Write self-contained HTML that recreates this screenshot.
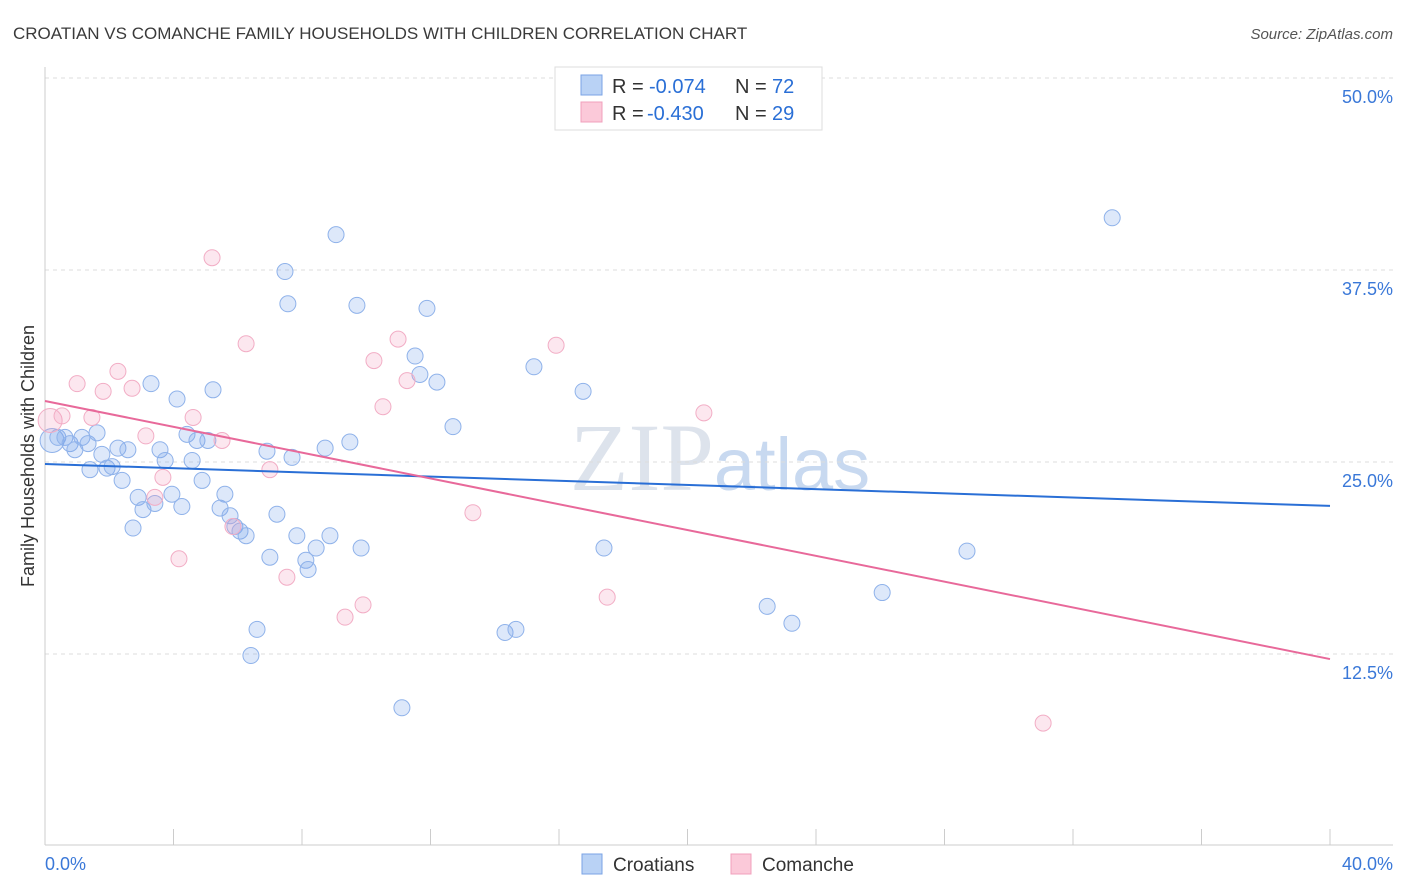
<!DOCTYPE html>
<html><head><meta charset="utf-8"><style>
body{margin:0;background:#fff;font-family:"Liberation Sans",sans-serif}
svg{display:block}
</style></head><body>
<svg id="chart" width="1406" height="892" xmlns="http://www.w3.org/2000/svg">
<text x="13" y="39" font-size="17" fill="#3a3a3a">CROATIAN VS COMANCHE FAMILY HOUSEHOLDS WITH CHILDREN CORRELATION CHART</text>
<text x="1393" y="39" font-size="15" fill="#555" font-style="italic" text-anchor="end">Source: ZipAtlas.com</text>
<text x="720" y="490" font-size="96" fill="#dde3ec" text-anchor="middle" font-family="Liberation Serif,serif">ZIP<tspan font-family="Liberation Sans,sans-serif" font-size="74" fill="#c8d9f0">atlas</tspan></text>
<g id="grid"></g>
<g id="axes"></g>
<text transform="translate(34,456) rotate(-90)" font-size="18" fill="#333" text-anchor="middle">Family Households with Children</text>
<g id="pts"></g>
<g id="lines"></g>
<g>
<rect x="555" y="67" width="267" height="63" fill="#fff" stroke="#ddd"/>
<rect x="581" y="75" width="21" height="20" fill="#b9d2f5" stroke="#7aa3e5"/>
<rect x="581" y="102" width="21" height="20" fill="#fbc9d9" stroke="#f0a0bc"/>
<g font-size="20" fill="#333">
<text x="612" y="93">R =</text><text x="649" y="93" fill="#2a6fd6">-0.074</text><text x="735" y="93">N =</text><text x="772" y="93" fill="#2a6fd6">72</text></g>
<g font-size="20" fill="#333">
<text x="612" y="120">R =</text><text x="647" y="120" fill="#2a6fd6">-0.430</text><text x="735" y="120">N =</text><text x="772" y="120" fill="#2a6fd6">29</text></g>
</g>
<g>
<rect x="582" y="854" width="20" height="20" fill="#b9d2f5" stroke="#7aa3e5"/>
<text x="613" y="871" font-size="19" fill="#333">Croatians</text>
<rect x="731" y="854" width="20" height="20" fill="#fbc9d9" stroke="#f0a0bc"/>
<text x="762" y="871" font-size="19" fill="#333">Comanche</text>
</g>
</svg>
<script>
const yTicks=[12.5,25,37.5,50];
const yTickLabels=["12.5%","25.0%","37.5%","50.0%"];
const xTickLabels=["0.0%","40.0%"];
const croatX=[.22,.40,.62,.78,.93,1.15,1.34,1.40,1.62,1.77,1.93,2.09,2.27,2.40,2.58,2.74,2.90,3.05,3.30,3.42,3.58,3.74,3.95,4.11,4.26,4.42,4.58,4.73,4.89,5.07,5.23,5.45,5.60,5.76,5.91,6.07,6.26,6.41,6.60,6.91,7.00,7.22,7.47,7.56,7.69,7.84,8.12,8.19,8.44,8.72,8.87,9.06,9.49,9.71,9.84,11.11,11.52,11.67,11.89,12.20,12.70,14.32,14.66,15.22,16.75,17.40,22.48,23.25,26.06,28.70,33.22];
const croatY=[26.4,26.6,26.6,26.2,25.8,26.6,26.2,24.5,26.9,25.5,24.6,24.7,25.9,23.8,25.8,20.7,22.7,21.9,30.1,22.3,25.8,25.1,22.9,29.1,22.1,26.8,25.1,26.4,23.8,26.4,29.7,22.0,22.9,21.5,20.8,20.5,20.2,12.4,14.1,25.7,18.8,21.6,37.4,35.3,25.3,20.2,18.6,18.0,19.4,25.9,20.2,39.8,26.3,35.2,19.4,9.0,31.9,30.7,35.0,30.2,27.3,13.9,14.1,31.2,29.6,19.4,15.6,14.5,16.5,19.2,40.9];
const comX=[.16,.53,1.00,1.46,1.81,2.27,2.71,3.14,3.42,3.67,4.17,4.61,5.20,5.51,5.85,6.26,7.00,7.53,9.34,9.90,10.24,10.52,10.99,11.27,13.32,15.91,17.50,20.51,31.07];
const comY=[27.7,28.0,30.1,27.9,29.6,30.9,29.8,26.7,22.7,24.0,18.7,27.9,38.3,26.4,20.8,32.7,24.5,17.5,14.9,15.7,31.6,28.6,33.0,30.3,21.7,32.6,16.2,28.2,8.0];
const croatTrend=[24.87,22.14];
const comTrend=[28.97,12.17];
const NS="http://www.w3.org/2000/svg";
const X=v=>45+v/40*1285, Y=v=>846-v*15.36;
function mk(p,t,a){const e=document.createElementNS(NS,t);for(const k in a)e.setAttribute(k,a[k]);p.appendChild(e);return e;}
const grid=document.getElementById('grid'),axes=document.getElementById('axes'),pts=document.getElementById('pts'),lines=document.getElementById('lines');
yTicks.forEach((t,i)=>{
 const g=mk(grid,'line',{x1:45,x2:1393,y1:Y(t),y2:Y(t),stroke:'#ddd','stroke-dasharray':'4,4'});
 
 
 const l=mk(axes,'text',{x:1393,y:Y(t)+25,'font-size':18,fill:'#3a78d8','text-anchor':'end'});l.textContent=yTickLabels[i];
 
 
});
const ya=mk(axes,'line',{x1:45,x2:45,y1:67,y2:845,stroke:'#ccc'});


const xa=mk(axes,'line',{x1:45,x2:1393,y1:845,y2:845,stroke:'#ccc'});


for(let i=0;i<=10;i++){const t=mk(axes,'line',{x1:X(i*4),x2:X(i*4),y1:829,y2:845,stroke:'#ccc'});
 
 }
[[0,'start',45],[40,'end',1393]].forEach((d,i)=>{const t=mk(axes,'text',{x:d[2],y:870,'font-size':18,fill:'#3a78d8','text-anchor':d[1]});t.textContent=xTickLabels[i];
 
 });
function dots(xs,ys,fill,stroke,name){xs.forEach((x,i)=>{const c=mk(pts,'circle',{cx:X(x),cy:Y(ys[i]),r:i===0?12:8,fill:fill,stroke:stroke,'stroke-width':1});
 
 });}
dots(croatX,croatY,'rgba(120,165,235,0.25)','#8fb2ea','croatians-point');
dots(comX,comY,'rgba(245,160,190,0.25)','#f2adc5','comanche-point');
const bl=mk(lines,'line',{x1:X(0),x2:X(40),y1:Y(croatTrend[0]),y2:Y(croatTrend[1]),stroke:'#2a6fd6','stroke-width':2});


const pl=mk(lines,'line',{x1:X(0),x2:X(40),y1:Y(comTrend[0]),y2:Y(comTrend[1]),stroke:'#e8699a','stroke-width':2});


</script>
</body></html>
